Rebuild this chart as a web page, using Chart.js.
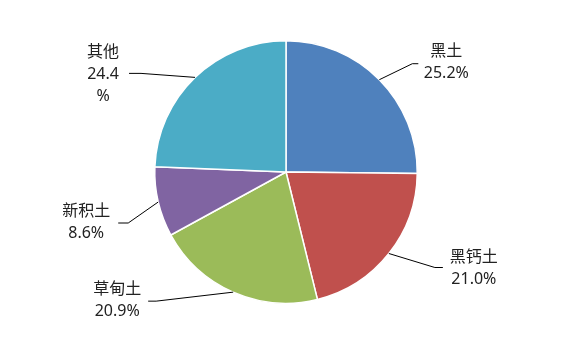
<!DOCTYPE html>
<html>
<head>
<meta charset="utf-8">
<script src="https://cdn.jsdelivr.net/npm/chart.js@4/dist/chart.umd.min.js"></script>
<style>
  html, body { margin: 0; padding: 0; background: #fff; }
  #wrap { width: 570px; height: 343px; }
</style>
</head>
<body>
<div id="wrap"><canvas id="pieChart" width="570" height="343"></canvas></div>
<script>
const categories = ["黑土", "黑钙土", "草甸土", "新积土", "其他"];
const shares = [25.2, 21.0, 20.9, 8.6, 24.4];
const sliceColors = ["#4F81BD", "#C0504D", "#9BBB59", "#8064A2", "#4BACC6"];

// leader line / label placement, offsets from the point on the slice edge
const labelLayout = [
  { elbow: [33, -16], end: [39, -16], text: [67, -28], wrap: false },
  { elbow: [46, 14], end: [54, 14], text: [85, 4], wrap: false },
  { elbow: [-77, 9], end: [-85, 9], text: [-116, -3], wrap: false },
  { elbow: [-30, 21], end: [-40, 21], text: [-72, 9], wrap: false },
  { elbow: [-54, -4], end: [-66, -4], text: [-92, -25], wrap: true },
];

const labelFont = '16px "Noto Sans", "Noto Sans CJK SC", sans-serif';
const lineHeight = 22;

const leaderLabels = {
  id: "leaderLabels",
  afterDatasetsDraw(chart) {
    const ctx = chart.ctx;
    const arcs = chart.getDatasetMeta(0).data;
    ctx.save();
    arcs.forEach((arc, i) => {
      const p = arc.getProps(["x", "y", "startAngle", "endAngle", "outerRadius"], true);
      const mid = (p.startAngle + p.endAngle) / 2;
      const ax = p.x + Math.cos(mid) * p.outerRadius;
      const ay = p.y + Math.sin(mid) * p.outerRadius;
      const lay = labelLayout[i];

      ctx.strokeStyle = "#000";
      ctx.lineWidth = 1;
      ctx.beginPath();
      ctx.moveTo(ax, ay);
      ctx.lineTo(ax + lay.elbow[0], ay + lay.elbow[1]);
      ctx.lineTo(ax + lay.end[0], ay + lay.end[1]);
      ctx.stroke();

      const pct = shares[i].toFixed(1);
      const lines = lay.wrap ? [categories[i], pct, "%"] : [categories[i], pct + "%"];
      ctx.fillStyle = "#222";
      ctx.font = labelFont;
      ctx.textAlign = "center";
      ctx.textBaseline = "middle";
      lines.forEach((t, k) => {
        ctx.fillText(t, ax + lay.text[0], ay + lay.text[1] + k * lineHeight);
      });
    });
    ctx.restore();
  },
};

new Chart(document.getElementById("pieChart"), {
  type: "pie",
  data: {
    labels: categories,
    datasets: [
      {
        data: shares,
        backgroundColor: sliceColors,
        borderColor: "#fff",
        borderWidth: 1.5,
      },
    ],
  },
  options: {
    responsive: false,
    animation: false,
    layout: {
      padding: { top: 40, bottom: 39, left: 20, right: 18 },
    },
    plugins: {
      legend: { display: false },
      tooltip: { enabled: false },
    },
  },
  plugins: [leaderLabels],
});
</script>
</body>
</html>
